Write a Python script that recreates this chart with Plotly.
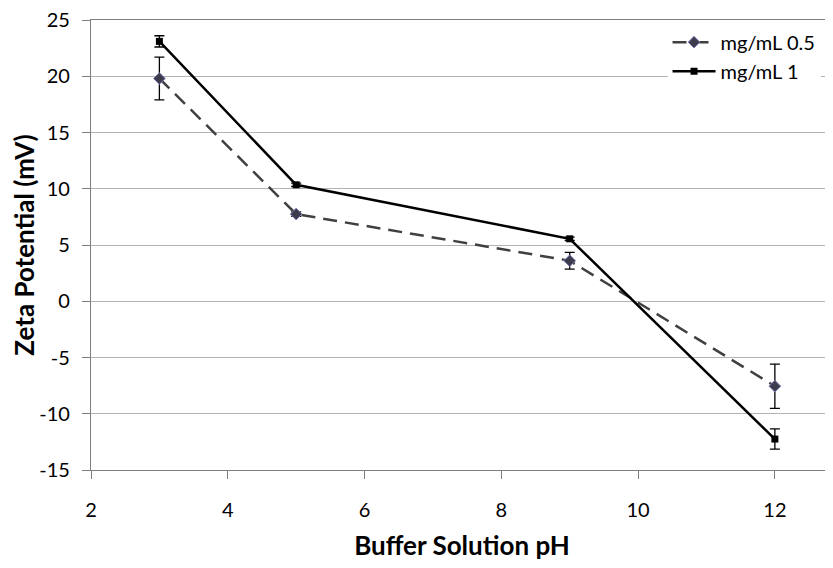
import plotly.graph_objects as go

ph = [3, 5, 9, 12]
zeta_05 = [19.8, 7.75, 3.6, -7.55]
err_05 = [1.9, 0.2, 0.75, 1.97]
zeta_1 = [23.1, 10.35, 5.55, -12.25]
err_1 = [0.5, 0.15, 0.15, 0.9]
series_names = ["mg/mL 0.5", "mg/mL 1"]
x_ticks = [2, 4, 6, 8, 10, 12]
y_ticks = [-15, -10, -5, 0, 5, 10, 15, 20, 25]

FONT = "Lato"

fig = go.Figure()
fig.add_trace(go.Scatter(
    x=ph, y=zeta_05, name=series_names[0], mode="lines+markers",
    line=dict(color="#404040", width=2.5, dash="14px,8px"),
    marker=dict(symbol="diamond", size=9, color="#3c3c4c",
                line=dict(color="#7a7ab8", width=1)),
    error_y=dict(type="data", array=err_05, color="black", thickness=1.3, width=5),
))
fig.add_trace(go.Scatter(
    x=ph, y=zeta_1, name=series_names[1], mode="lines+markers",
    line=dict(color="black", width=2.5),
    marker=dict(symbol="square", size=7, color="black"),
    error_y=dict(type="data", array=err_1, color="black", thickness=1.3, width=5),
))

# page body has an 8px margin, so the figure is sized to the visible area
fig.update_layout(
    width=825, height=560,
    margin=dict(l=83, r=0, t=12, b=98, autoexpand=False),
    paper_bgcolor="white", plot_bgcolor="white",
    font=dict(family=FONT, size=20, color="black"),
    legend=dict(x=0.777, y=0.994, xanchor="left", yanchor="top",
                bgcolor="white", font=dict(family=FONT, size=20),
                itemwidth=43, tracegroupgap=0),
)
fig.update_xaxes(
    range=[2, 12.85], tickmode="array", tickvals=x_ticks,
    ticktext=[str(v) for v in x_ticks],
    showgrid=False, zeroline=False, automargin=False,
    showline=True, linecolor="#7f7f7f", linewidth=1.3, mirror=True,
    ticks="outside", ticklen=8, tickcolor="#7f7f7f", ticklabelstandoff=14,
    ticklabeloverflow="allow",
    tickfont=dict(family=FONT, size=20),
    title=dict(text="<b>Buffer Solution pH</b>", font=dict(family=FONT, size=26), standoff=16),
)
fig.update_yaxes(
    range=[-15, 25], tickmode="array", tickvals=y_ticks,
    ticktext=[str(v) for v in y_ticks],
    showgrid=True, gridcolor="#b3b3b3", gridwidth=1, zeroline=False, automargin=False,
    showline=True, linecolor="#7f7f7f", linewidth=1.3,
    ticks="outside", ticklen=8, tickcolor="#7f7f7f", ticklabelstandoff=8,
    ticklabeloverflow="allow",
    tickfont=dict(family=FONT, size=20),
    title=dict(text="<b>Zeta Potential (mV)</b>", font=dict(family=FONT, size=26), standoff=6),
)

fig.write_html("out.html")
